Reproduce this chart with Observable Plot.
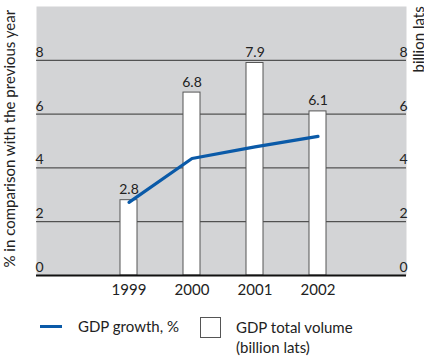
<!DOCTYPE html>
<html><head><meta charset="utf-8">
<script src="https://cdn.jsdelivr.net/npm/d3@7"></script>
<script src="https://cdn.jsdelivr.net/npm/@observablehq/plot@0.6"></script>
<style>
body{margin:0;background:#fff;font-family:Lato,"Open Sans",sans-serif;color:#222;}
#wrap{position:relative;width:424px;height:360px;}
#legend{position:absolute;left:0;top:305px;width:424px;height:55px;font-size:15px;}
</style></head>
<body><div id="wrap"><div id="chart"></div>
<div id="legend">
  <div style="position:absolute;left:40px;top:20px;width:22px;height:3px;background:#0a5aa8;"></div>
  <div style="position:absolute;left:78px;top:12px;">GDP growth, %</div>
  <div style="position:absolute;left:200px;top:12px;width:19px;height:19px;border:1px solid #555;background:#fff;"></div>
  <div style="position:absolute;left:236px;top:12px;line-height:20px;">GDP total volume<br>(billion lats)</div>
</div></div>
<script>
const years = ["1999", "2000", "2001", "2002"];
const barValues = [2.8, 6.8, 7.9, 6.1];
const lineValues = [2.72, 4.35, 4.78, 5.17];
const yTicks = [0, 2, 4, 6, 8];
const leftTitle = "% in comparison with the previous year";
const rightTitle = "billion lats";

const bars = years.map((y, i) => ({year: y, value: barValues[i]}));
const line = years.map((y, i) => ({year: y, value: lineValues[i]}));

const chart = Plot.plot({
  width: 424,
  height: 305,
  marginLeft: 36,
  marginRight: 18,
  marginTop: 6,
  marginBottom: 30,
  style: {fontFamily: "Lato, 'Open Sans', sans-serif", fontSize: "13px", color: "#222", background: "transparent"},
  x: {type: "band", domain: years, paddingInner: 0.725, paddingOuter: 1.283, align: 0.512, label: null},
  y: {domain: [0, 10], label: null},
  marks: [
    Plot.frame({fill: "#d3d4d6", stroke: null}),
    Plot.ruleY(yTicks.filter(d => d > 0), {stroke: "#333", strokeWidth: 1}),
    Plot.barY(bars, {x: "year", y: "value", fill: "#fff", stroke: "#555", strokeWidth: 1}),
    Plot.text(bars, {x: "year", y: "value", text: d => d.value.toFixed(1), lineAnchor: "bottom", dy: -6, fontSize: 14}),
    Plot.lineY(line, {x: "year", y: "value", stroke: "#0a5aa8", strokeWidth: 3.2}),
    Plot.ruleY([0], {stroke: "#111", strokeWidth: 2}),
    Plot.axisY(yTicks, {anchor: "left", tickSize: 0, textAnchor: "start", dx: 8, dy: -8, fontSize: 14, label: null}),
    Plot.axisY(yTicks, {anchor: "right", tickSize: 0, textAnchor: "end", dx: -8, dy: -8, fontSize: 14, label: null}),
    Plot.axisX({anchor: "bottom", tickSize: 0, tickPadding: 9, fontSize: 15, label: null}),
    Plot.text([leftTitle], {frameAnchor: "bottom-left", rotate: -90, textAnchor: "start", dx: -22, dy: -8, fontSize: 15}),
    Plot.text([rightTitle], {frameAnchor: "top-right", rotate: -90, textAnchor: "start", dx: 7, dy: 66, fontSize: 15})
  ]
});
document.getElementById("chart").appendChild(chart);
</script></body></html>
